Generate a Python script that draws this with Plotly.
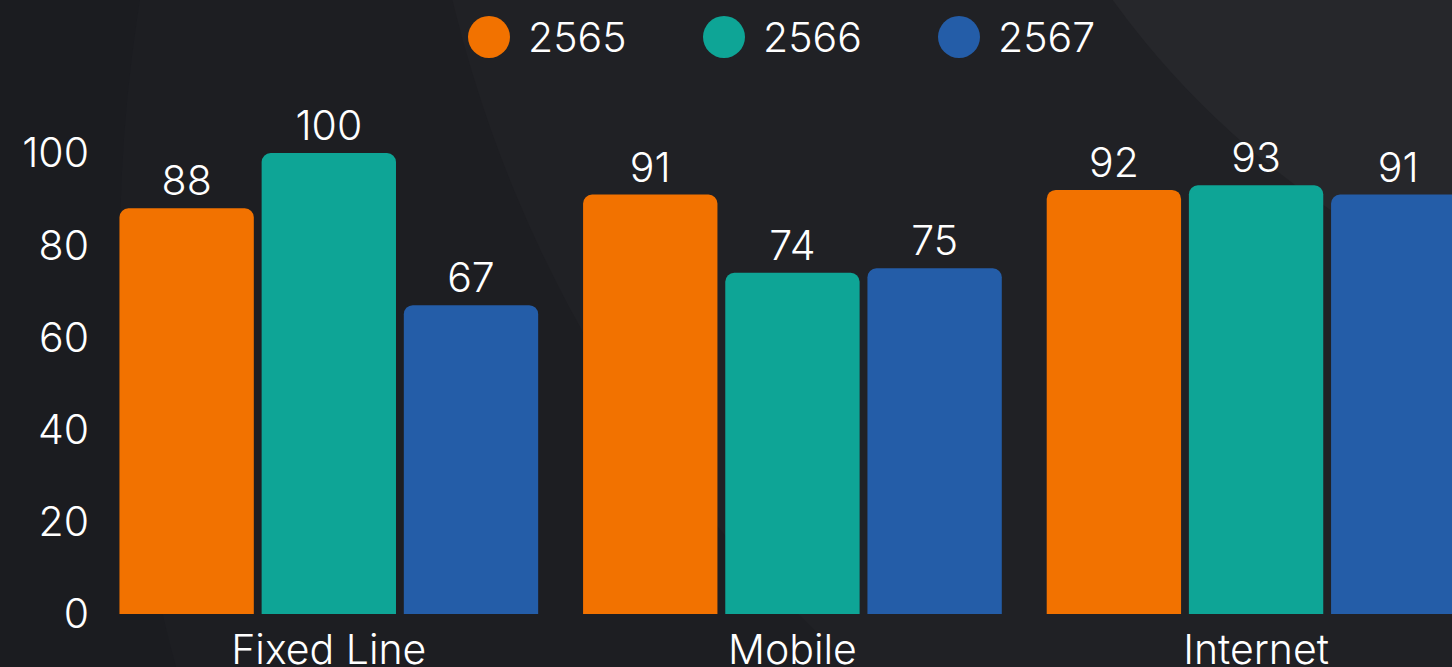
import plotly.graph_objects as go

# ---- data ----
categories = ["Fixed Line", "Mobile", "Internet"]
series_names = ["2565", "2566", "2567"]
values_2565 = [88, 91, 92]
values_2566 = [100, 74, 93]
values_2567 = [67, 75, 91]
y_ticks = [0, 20, 40, 60, 80, 100]

series_values = [values_2565, values_2566, values_2567]
colors = ["#F27200", "#0EA596", "#245DA8"]

W, H = 1452, 667
ML, MR, MT, MB = 97, 0, 100, 53
FONT = "Inter, 'Open Sans', sans-serif"
FS = 41
FW = 300

fig = go.Figure()
for name, vals, col in zip(series_names, series_values, colors):
    fig.add_trace(go.Bar(
        x=categories, y=vals, name=name,
        marker=dict(color=col, line=dict(width=0)),
        text=[str(v) for v in vals], textposition="outside",
        textfont=dict(color="#FFFFFF", size=FS, family=FONT, weight=FW),
        cliponaxis=False, showlegend=False,
    ))

pw = W - ML - MR
ph = H - MT - MB

def px_x(p):
    return (p - ML) / pw

def px_y(p):
    return (H - MB - p) / ph

shapes = []
# subtle background arcs
def bg_circle(cx, cy, r, color):
    return dict(type="circle", xref="paper", yref="paper", layer="below",
                x0=px_x(cx - r), x1=px_x(cx + r), y0=px_y(cy + r), y1=px_y(cy - r),
                fillcolor=color, line=dict(width=0))

shapes.append(bg_circle(1700, 250, 1580, "#1D1E22"))
shapes.append(bg_circle(1704, -300, 1287, "#202125"))
shapes.append(bg_circle(1805, -500, 854, "#26272B"))

annotations = []
legend_cx = [489, 724, 959]
for name, col, cx in zip(series_names, colors, legend_cx):
    shapes.append(dict(type="circle", xref="paper", yref="paper",
                       xsizemode="pixel", ysizemode="pixel",
                       xanchor=px_x(cx), yanchor=px_y(37),
                       x0=-21, x1=21, y0=-21, y1=21,
                       fillcolor=col, line=dict(width=0)))
    annotations.append(dict(xref="paper", yref="paper", x=px_x(cx + 37), y=px_y(37),
                            xanchor="left", yanchor="middle", showarrow=False,
                            text=name, font=dict(color="#FFFFFF", size=FS, family=FONT, weight=FW)))

fig.update_layout(
    width=W, height=H,
    margin=dict(l=ML, r=MR, t=MT, b=MB, pad=0, autoexpand=False),
    paper_bgcolor="#1B1C20", plot_bgcolor="rgba(0,0,0,0)",
    barmode="group", bargap=0.08, bargroupgap=0.055,
    barcornerradius=9,
    font=dict(family=FONT, color="#FFFFFF", size=FS, weight=FW),
    xaxis=dict(range=[-0.5, 2.4226], showgrid=False, zeroline=False, showline=False,
               ticks="", ticklabelstandoff=8, automargin=False,
               tickfont=dict(size=FS, color="#FFFFFF", family=FONT, weight=FW)),
    yaxis=dict(range=[0, 111.5], tickvals=y_ticks, showgrid=False, zeroline=False,
               showline=False, ticks="", ticklabelstandoff=7, automargin=False,
               tickfont=dict(size=FS, color="#FFFFFF", family=FONT, weight=FW)),
    shapes=shapes, annotations=annotations, showlegend=False,
)

fig.write_html("out.html", config={"displayModeBar": False},
               post_script="document.body.style.margin='0';document.body.style.overflow='hidden';")
